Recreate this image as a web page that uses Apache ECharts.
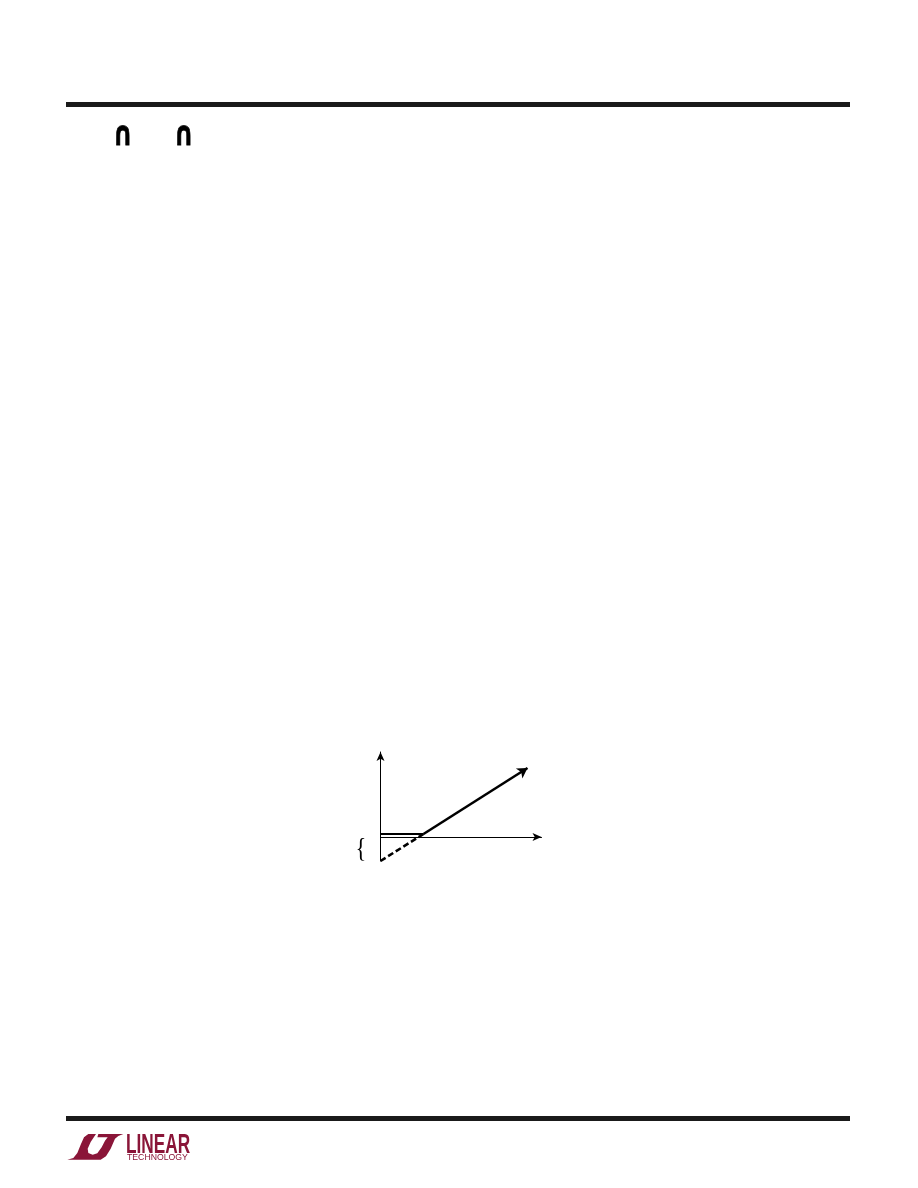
<!DOCTYPE html>
<html><head><meta charset="utf-8">
<style>html,body{margin:0;padding:0;background:#fff}#c{width:918px;height:1188px}</style>
<script src="https://cdn.jsdelivr.net/npm/echarts@6/dist/echarts.min.js"></script>
</head><body><div id="c"></div>
<script>
var flatSegment = [[0, 3], [43, 3]];
var risingSegment = [[43, 3], [147, 69]];
var dashedSegment = [[0, -24], [43, 3]];
var maroon = '#8a1538';
var logoOutline = [[22,95],[40,90],[52,75],[62,50],[72,28],[85,18],[108,18],[92,42],[83,62],[85,75],[98,80],[112,76],[125,58],[135,38],[143,28],[112,28],[115,18],[190,18],[175,24],[165,32],[152,62],[138,85],[122,95]];
var chart = echarts.init(document.getElementById('c'), null, {renderer: 'canvas'});
chart.setOption({
  animation: false,
  backgroundColor: '#fff',
  grid: {left: 380.5, top: 752, width: 161, height: 109, containLabel: false},
  xAxis: {type: 'value', min: 0, max: 161, position: 'bottom',
    axisLine: {onZero: true, show: true, symbol: ['none', 'arrow'], symbolSize: [6, 9], lineStyle: {color: '#000', width: 1}},
    axisTick: {show: false}, axisLabel: {show: false}, splitLine: {show: false}},
  yAxis: {type: 'value', min: -24, max: 85,
    axisLine: {onZero: false, show: true, symbol: ['none', 'arrow'], symbolSize: [6, 9], lineStyle: {color: '#000', width: 1}},
    axisTick: {show: false}, axisLabel: {show: false}, splitLine: {show: false}},
  series: [
    {type: 'line', data: flatSegment, showSymbol: false, lineStyle: {color: '#000', width: 2}},
    {type: 'line', data: risingSegment, showSymbol: false, lineStyle: {color: '#000', width: 2.6},
      markPoint: {symbol: 'arrow', symbolSize: [9, 10], symbolRotate: -57, silent: true, label: {show: false},
        itemStyle: {color: '#000'}, data: [{coord: risingSegment[1]}]}},
    {type: 'line', data: dashedSegment, showSymbol: false, lineStyle: {color: '#000', width: 2.6, type: [6, 3]}}
  ],
  graphic: [
    {type: 'rect', shape: {x: 66, y: 102, width: 784, height: 5}, style: {fill: '#1a1a1a'}},
    {type: 'rect', shape: {x: 66, y: 1116, width: 784, height: 5}, style: {fill: '#1a1a1a'}},
    {type: 'text', x: 123, y: 136, scaleY: 1.35, style: {text: '∩', font: 'bold 25px "DejaVu Sans"', fill: '#000', stroke: '#000', lineWidth: 0.6, align: 'center', verticalAlign: 'middle'}},
    {type: 'text', x: 184, y: 136, scaleY: 1.35, style: {text: '∩', font: 'bold 25px "DejaVu Sans"', fill: '#000', stroke: '#000', lineWidth: 0.6, align: 'center', verticalAlign: 'middle'}},
    {type: 'text', x: 361, y: 850, scaleX: 0.8, style: {text: '{', font: '28px "Liberation Serif"', fill: '#000', align: 'center', verticalAlign: 'middle'}},
    {type: 'polygon', shape: {points: logoOutline.map(function (p) { return [60 + p[0] / 3, 1128 + p[1] / 3]; })}, style: {fill: maroon}},
    {type: 'text', x: 126, y: 1145, scaleX: 0.615, style: {text: 'LINEAR', font: 'bold 28px "Liberation Sans"', fill: maroon, align: 'left', verticalAlign: 'middle'}},
    {type: 'text', x: 127, y: 1158, style: {text: 'TECHNOLOGY', font: '8.7px "Liberation Sans"', fill: maroon, align: 'left', verticalAlign: 'middle'}}
  ]
});
</script></body></html>
